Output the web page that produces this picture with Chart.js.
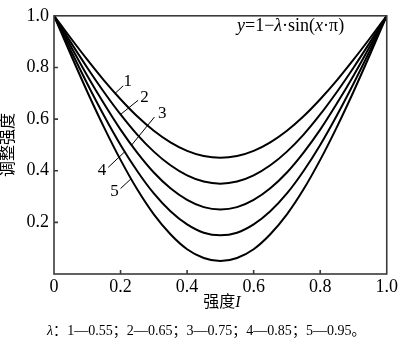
<!DOCTYPE html>
<html>
<head>
<meta charset="utf-8">
<script src="https://cdn.jsdelivr.net/npm/chart.js@4/dist/chart.umd.min.js"></script>
<style>
  html, body { margin: 0; padding: 0; background: #fff; }
  #wrap { width: 400px; height: 342px; }
</style>
</head>
<body>
<div id="wrap"><canvas id="curveChart" width="400" height="342"></canvas></div>
<script>
// x positions along the axis
const xValues = [0, 0.05, 0.1, 0.15, 0.2, 0.25, 0.3, 0.35, 0.4, 0.45, 0.5,
  0.55, 0.6, 0.65, 0.7, 0.75, 0.8, 0.85, 0.9, 0.95, 1];

// curve values (lambda = 0.55 ... 0.95)
const curve1 = [1, 0.914, 0.830, 0.750, 0.677, 0.611, 0.555, 0.510, 0.477, 0.457, 0.450,
  0.457, 0.477, 0.510, 0.555, 0.611, 0.677, 0.750, 0.830, 0.914, 1];
const curve2 = [1, 0.898, 0.799, 0.705, 0.618, 0.540, 0.474, 0.421, 0.382, 0.358, 0.350,
  0.358, 0.382, 0.421, 0.474, 0.540, 0.618, 0.705, 0.799, 0.898, 1];
const curve3 = [1, 0.883, 0.768, 0.660, 0.559, 0.470, 0.393, 0.332, 0.287, 0.259, 0.250,
  0.259, 0.287, 0.332, 0.393, 0.470, 0.559, 0.660, 0.768, 0.883, 1];
const curve4 = [1, 0.867, 0.737, 0.614, 0.500, 0.399, 0.312, 0.243, 0.192, 0.160, 0.150,
  0.160, 0.192, 0.243, 0.312, 0.399, 0.500, 0.614, 0.737, 0.867, 1];
const curve5 = [1, 0.851, 0.706, 0.569, 0.442, 0.328, 0.231, 0.154, 0.096, 0.062, 0.050,
  0.062, 0.096, 0.154, 0.231, 0.328, 0.442, 0.569, 0.706, 0.851, 1];

const curveNames = ["1", "2", "3", "4", "5"];
const lambdaValues = ["0.55", "0.65", "0.75", "0.85", "0.95"];
const tickValues = [0.2, 0.4, 0.6, 0.8];

const serif = "'Liberation Serif', 'Times New Roman', serif";
const cjk = "'Liberation Serif', 'Noto Sans CJK SC', serif";

Chart.defaults.font.family = serif;
Chart.defaults.color = "#000";

// leader lines for the curve numbers (data coordinates: on curve, outer end, label)
const leaders = [
  { to: [0.183, 0.699], from: [0.208, 0.729], at: [0.222, 0.745] },
  { to: [0.200, 0.618], from: [0.253, 0.673], at: [0.272, 0.683] },
  { to: [0.233, 0.499], from: [0.302, 0.608], at: [0.325, 0.621] },
  { to: [0.213, 0.474], from: [0.163, 0.413], at: [0.144, 0.401] },
  { to: [0.231, 0.368], from: [0.200, 0.331], at: [0.182, 0.320] },
];

function toPoints(ys) {
  return xValues.map((x, i) => ({ x: x, y: ys[i] }));
}

function drawRich(ctx, parts, x, y, size, family) {
  let cx = x;
  parts.forEach(([txt, italic]) => {
    ctx.font = (italic ? "italic " : "") + size + "px " + family;
    ctx.fillText(txt, cx, y);
    cx += ctx.measureText(txt).width;
  });
  return cx - x;
}

function richWidth(ctx, parts, size, family) {
  let w = 0;
  parts.forEach(([txt, italic]) => {
    ctx.font = (italic ? "italic " : "") + size + "px " + family;
    w += ctx.measureText(txt).width;
  });
  return w;
}

const decorPlugin = {
  id: "decor",
  afterDatasetsDraw(chart) {
    const ctx = chart.ctx;
    const a = chart.chartArea;
    const xs = chart.scales.x, ys = chart.scales.y;
    ctx.save();

    // frame
    ctx.strokeStyle = "#3a3a3a";
    ctx.lineWidth = 1.6;
    ctx.strokeRect(a.left, a.top, a.right - a.left, a.bottom - a.top);

    // inward ticks on bottom and left
    ctx.beginPath();
    tickValues.forEach(v => {
      const px = xs.getPixelForValue(v);
      ctx.moveTo(px, a.bottom);
      ctx.lineTo(px, a.bottom - 4);
      const py = ys.getPixelForValue(v);
      ctx.moveTo(a.left, py);
      ctx.lineTo(a.left + 4, py);
    });
    ctx.stroke();

    // leader lines and curve numbers
    ctx.strokeStyle = "#000";
    ctx.lineWidth = 1;
    ctx.fillStyle = "#000";
    ctx.textAlign = "center";
    ctx.textBaseline = "middle";
    ctx.font = "17px " + serif;
    leaders.forEach((l, i) => {
      ctx.beginPath();
      ctx.moveTo(xs.getPixelForValue(l.from[0]), ys.getPixelForValue(l.from[1]));
      ctx.lineTo(xs.getPixelForValue(l.to[0]), ys.getPixelForValue(l.to[1]));
      ctx.stroke();
      ctx.fillText(curveNames[i], xs.getPixelForValue(l.at[0]), ys.getPixelForValue(l.at[1]));
    });

    // formula
    ctx.textAlign = "left";
    ctx.textBaseline = "alphabetic";
    drawRich(ctx, [["y", true], ["=1\u2212", false], ["\u03bb", true], ["\u00b7sin(", false],
      ["x", true], ["\u00b7\u03c0)", false]], 237, 31, 18, serif);

    // x axis title
    const xt = [["强度", false], ["I", true]];
    const xw = richWidth(ctx, xt, 16, cjk);
    drawRich(ctx, xt, 222 - xw / 2, 307, 16, cjk);

    // y axis title
    ctx.save();
    ctx.translate(9, 145);
    ctx.rotate(-Math.PI / 2);
    ctx.textAlign = "center";
    ctx.textBaseline = "middle";
    ctx.font = "16px " + cjk;
    ctx.fillText("调整强度", 0, 0);
    ctx.restore();

    // caption, fitted to the width it takes in the figure
    let cap = "：";
    curveNames.forEach((n, i) => {
      cap += n + "—" + lambdaValues[i] + (i < curveNames.length - 1 ? "；" : "。");
    });
    const capParts = [["\u03bb", true], [cap, false]];
    const capSize = 13 * 319 / richWidth(ctx, capParts, 13, cjk);
    drawRich(ctx, capParts, 47, 335, capSize, cjk);

    ctx.restore();
  },
};

const lineStyle = {
  borderColor: "#000",
  borderWidth: 2,
  pointRadius: 0,
  fill: false,
  cubicInterpolationMode: "monotone",
};

new Chart(document.getElementById("curveChart").getContext("2d"), {
  type: "line",
  data: {
    datasets: [curve1, curve2, curve3, curve4, curve5].map((ys, i) =>
      Object.assign({ label: curveNames[i], data: toPoints(ys) }, lineStyle)),
  },
  options: {
    responsive: false,
    animation: false,
    layout: { autoPadding: false, padding: { top: 5, right: 12, left: 0, bottom: 0 } },
    plugins: { legend: { display: false }, tooltip: { enabled: false } },
    scales: {
      x: {
        type: "linear",
        min: 0,
        max: 1,
        grid: { display: false, drawTicks: false },
        border: { display: false },
        ticks: {
          stepSize: 0.2,
          padding: 2,
          maxRotation: 0,
          color: "#000",
          font: { family: serif, size: 18 },
          callback: v => (v === 0 ? "0" : v.toFixed(1)),
        },
        afterFit: s => { s.height = 68; },
      },
      y: {
        min: 0,
        max: 1,
        grid: { display: false, drawTicks: false },
        border: { display: false },
        ticks: {
          stepSize: 0.2,
          padding: 5,
          color: "#000",
          font: { family: serif, size: 18 },
          callback: v => (v === 0 ? "" : v.toFixed(1)),
        },
        afterFit: s => { s.width = 54; },
      },
    },
  },
  plugins: [decorPlugin],
});
</script>
</body>
</html>
